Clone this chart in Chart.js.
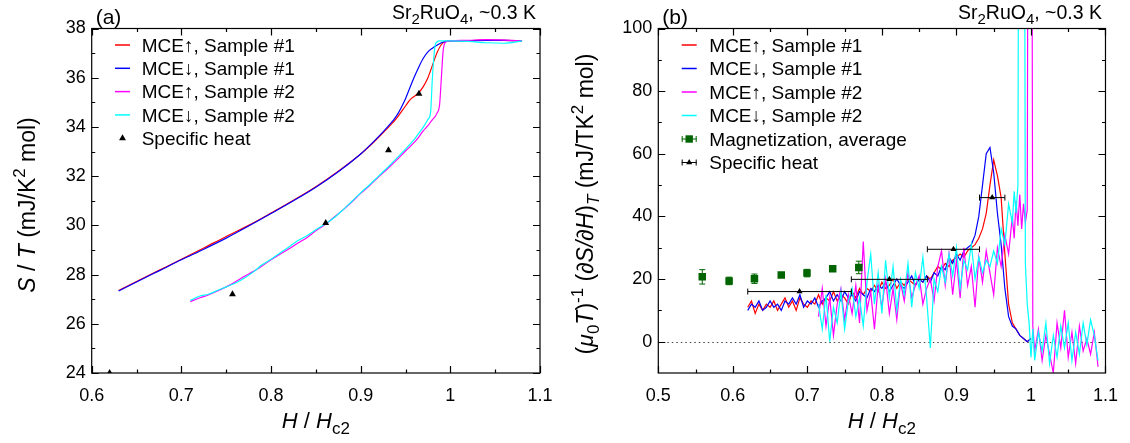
<!DOCTYPE html>
<html>
<head>
<meta charset="utf-8">
<script src="https://cdn.jsdelivr.net/npm/chart.js@4.4.1/dist/chart.umd.min.js"></script>
<style>
body{margin:0;background:#fff;}
#wrap{display:flex;width:1130px;height:443px;}
canvas{display:block;}
</style>
</head>
<body>
<div id="wrap"><canvas id="chartA" width="565" height="443"></canvas><canvas id="chartB" width="565" height="443"></canvas></div>
<script>
// ---------- panel (a): S/T vs H/Hc2 ----------
var hA1 = [0.630,0.650,0.675,0.700,0.725,0.750,0.775,0.800,0.825,0.850,0.875,0.900,0.915,0.930,0.940,0.950,0.955,0.960,0.965,0.970,0.975,0.980,0.985,0.990,0.995,1.000,1.020,1.040,1.060,1.080];
var upA1 = [27.35,27.72,28.17,28.62,29.08,29.55,30.0,30.5,31.02,31.57,32.2,32.9,33.4,33.95,34.35,34.85,35.1,35.25,35.4,35.65,36.0,36.5,37.0,37.35,37.48,37.5,37.5,37.53,37.52,37.5];
var downA1 = [27.33,27.7,28.15,28.6,29.03,29.48,29.97,30.48,31.0,31.55,32.18,32.9,33.42,34.0,34.45,35.15,35.6,36.05,36.45,36.8,37.05,37.2,37.32,37.42,37.48,37.5,37.5,37.52,37.52,37.5];
var hA2 = [0.710,0.720,0.730,0.740,0.750,0.760,0.770,0.780,0.790,0.800,0.810,0.820,0.830,0.840,0.850,0.860,0.870,0.880,0.890,0.900,0.910,0.920,0.930,0.940,0.950,0.960,0.965,0.970,0.975,0.978,0.980,0.983,0.985,0.988,0.990,0.992,0.995,1.000,1.020,1.040,1.060,1.080];
var upA2 = [26.9,27.05,27.17,27.33,27.5,27.7,27.92,28.12,28.35,28.6,28.83,29.05,29.28,29.5,29.78,30.02,30.32,30.62,30.95,31.3,31.62,31.97,32.3,32.65,33.02,33.38,33.6,33.85,34.05,34.2,34.3,34.42,34.55,34.9,36.0,37.1,37.45,37.5,37.52,37.55,37.53,37.5];
var downA2 = [26.95,27.12,27.2,27.35,27.5,27.65,27.85,28.1,28.4,28.62,28.88,29.12,29.38,29.58,29.82,30.05,30.3,30.62,30.97,31.32,31.65,32.0,32.35,32.72,33.1,33.5,33.75,34.0,34.3,34.6,36.0,37.3,37.45,37.5,37.5,37.5,37.5,37.5,37.48,37.42,37.4,37.5];
var cpH = [0.620,0.757,0.861,0.931,0.965];
var cpS = [24.0,27.2,30.1,33.05,35.35];
var xMajorA = [0.6,0.7,0.8,0.9,1.0,1.1];
var xMinorA = [0.65,0.75,0.85,0.95,1.05];
var yMajorA = [24,26,28,30,32,34,36,38];
var yMinorA = [25,27,29,31,33,35,37];

// ---------- panel (b): (mu0 T)^-1 dS/dH vs H/Hc2 ----------
var hB1 = [0.620,0.625,0.630,0.635,0.640,0.645,0.650,0.655,0.660,0.665,
  0.670,0.675,0.680,0.685,0.690,0.695,0.700,0.705,0.710,0.715,
  0.720,0.725,0.730,0.735,0.740,0.745,0.750,0.755,0.760,0.765,
  0.770,0.775,0.780,0.785,0.790,0.795,0.800,0.805,0.810,0.815,
  0.820,0.825,0.830,0.835,0.840,0.845,0.850,0.855,0.860,0.865,
  0.870,0.875,0.880,0.885,0.890,0.895,0.900,0.905,0.910,0.915,
  0.920,0.925,0.930,0.935,0.940,0.945,0.950,0.955,0.960,0.965,
  0.970,0.975,0.980,0.985,0.990,0.995,1.000];
var upB1 = [11,13,9,12,10,12,11,13,10,12,
  14,11,13,10,14,12,11,13,12,15,
  12,14,13,16,13,15,14,12,16,14,
  17,15,17,16,18,16,19,17,18,20,
  17,19,18,20,19,18,20,19,21,20,
  22,24,23,25,24,26,27,28,27,29,
  30,31,33,36,41,50,58,53,46,28,
  12,6,4,2,1,0,1];
var downB1 = [10,12,11,13,10,11,13,11,12,10,
  13,12,14,12,15,11,13,12,14,11,
  13,14,16,13,15,13,16,14,15,13,
  16,15,14,17,16,18,17,19,16,18,
  20,18,17,19,21,18,20,19,21,19,
  22,21,24,23,27,25,28,26,29,30,
  31,34,40,50,60,62,54,41,31,17,
  8,5,4,2,1,0,1];
var hB2 = [0.715,0.720,0.725,0.730,0.735,0.740,0.745,0.750,0.755,0.760,
  0.765,0.770,0.775,0.780,0.785,0.790,0.795,0.800,0.805,0.810,
  0.815,0.820,0.825,0.830,0.835,0.840,0.845,0.850,0.855,0.860,
  0.865,0.870,0.875,0.880,0.885,0.890,0.895,0.900,0.905,0.910,
  0.915,0.920,0.925,0.930,0.935,0.940,0.945,0.950,0.955,0.960,
  0.965,0.970,0.975,
  0.9775,0.980,0.9825,0.985,0.9875,0.990,0.9925,0.995,0.9975,1.000,1.0025,
  1.005,1.010,1.015,1.020,1.025,1.030,1.035,1.040,1.045,1.050,1.055,1.060,1.065,1.070,1.075,1.080,1.085,1.090];
var upB2 = [8,17,5,14,2,12,17,7,15,9,
  18,6,32,10,16,4,18,11,20,9,
  17,7,19,13,22,14,18,21,12,17,
  20,13,24,29,18,28,15,26,14,30,
  18,24,11,27,19,29,22,15,30,24,
  34,28,40,
  33,45,37,47,36,44,38,42,300,300,5,
  -3,4,-6,2,-4,-10,6,-2,10,-5,3,-7,5,-3,1,-4,3,-8];
var downB2 = [12,4,15,0,11,6,16,4,13,17,
  8,14,5,19,28,12,22,9,26,14,
  24,10,20,15,25,11,22,17,27,14,
  -2,20,16,24,19,28,21,30,17,26,
  23,31,20,27,22,26,24,29,25,36,
  31,44,38,
  48,41,50,300,300,300,25,12,6,-5,4,
  -6,3,-3,6,-7,2,-5,5,-2,6,-6,3,-4,6,-1,7,2,-6];
var magH = [0.559,0.595,0.629,0.665,0.6995,0.734,0.769];
var magD = [20.7,19.4,20.1,21.3,21.9,23.3,23.7];
var magErr = [2.3,1.2,1.5,0.8,1.2,0.8,2.0];
var cpbH = [0.6895,0.810,0.896,0.948];
var cpbD = [16.0,19.9,29.5,46.0];
var cpbLo = [0.620,0.759,0.861,0.931];
var cpbHi = [0.759,0.861,0.931,0.965];
var xMajorB = [0.5,0.6,0.7,0.8,0.9,1.0,1.1];
var xMinorB = [0.55,0.65,0.75,0.85,0.95,1.05];
var yMajorB = [0,20,40,60,80,100];
var yMinorB = [10,30,50,70,90];

var FONT = '"Liberation Sans", Arial, Helvetica, sans-serif';
var RED = '#ff0000', BLUE = '#0000ff', MAG = '#ff00ff', CYAN = '#00ffff', GREEN = '#006400';

function pts(xs, ys) {
  return xs.map(function (x, i) { return {x: x, y: ys[i]}; });
}
function fmt(v) { return String(Math.round(v * 100) / 100); }

function fontFor(p, size) {
  var s = (p.sub || p.sup) ? Math.round(size * 0.75) : size;
  return (p.it ? 'italic ' : '') + s + 'px ' + FONT;
}
// text with italic / sub / sup pieces
function drawRich(ctx, parts, x, y, size, align) {
  var w = 0;
  parts.forEach(function (p) { ctx.font = fontFor(p, size); p.w = ctx.measureText(p.t).width; w += p.w; });
  var cx = align === 'center' ? x - w / 2 : (align === 'right' ? x - w : x);
  ctx.textAlign = 'left';
  ctx.textBaseline = 'alphabetic';
  parts.forEach(function (p) {
    ctx.font = fontFor(p, size);
    var dy = p.sub ? size * 0.28 : (p.sup ? -size * 0.42 : 0);
    ctx.fillText(p.t, cx, y + dy);
    cx += p.w;
  });
}
function tri(ctx, x, y, r) {
  ctx.beginPath();
  ctx.moveTo(x, y - r);
  ctx.lineTo(x + r * 0.866, y + r * 0.5);
  ctx.lineTo(x - r * 0.866, y + r * 0.5);
  ctx.closePath();
  ctx.fill();
}

var deco = {
  id: 'deco',
  beforeDatasetsDraw: function (chart) {
    var o = chart.options.plugins.deco;
    if (!o.zeroLine) return;
    var ctx = chart.ctx, a = chart.chartArea, y = Math.round(chart.scales.y.getPixelForValue(0)) + 0.5;
    ctx.save();
    ctx.strokeStyle = '#444';
    ctx.lineWidth = 1;
    ctx.setLineDash([1.5, 3]);
    ctx.beginPath(); ctx.moveTo(a.left, y); ctx.lineTo(a.right, y); ctx.stroke();
    ctx.restore();
  },
  beforeDatasetDraw: function (chart, args) {
    var ds = chart.data.datasets[args.index];
    if (!ds.err) return;
    var ctx = chart.ctx, xs = chart.scales.x, ys = chart.scales.y, e = ds.err;
    ctx.save();
    ctx.strokeStyle = ds.backgroundColor;
    ctx.lineWidth = 1;
    ctx.beginPath();
    ds.data.forEach(function (p, i) {
      var px = xs.getPixelForValue(p.x), py = ys.getPixelForValue(p.y);
      if (e.kind === 'y') {
        var t = ys.getPixelForValue(p.y + e.d[i]), b = ys.getPixelForValue(p.y - e.d[i]);
        ctx.moveTo(px, t); ctx.lineTo(px, b);
        ctx.moveTo(px - 3, t); ctx.lineTo(px + 3, t);
        ctx.moveTo(px - 3, b); ctx.lineTo(px + 3, b);
      } else {
        var l = xs.getPixelForValue(e.lo[i]), r = xs.getPixelForValue(e.hi[i]);
        ctx.moveTo(l, py); ctx.lineTo(r, py);
        ctx.moveTo(l, py - 3); ctx.lineTo(l, py + 3);
        ctx.moveTo(r, py - 3); ctx.lineTo(r, py + 3);
      }
    });
    ctx.stroke();
    ctx.restore();
  },
  afterDatasetsDraw: function (chart) {
    var o = chart.options.plugins.deco, ctx = chart.ctx, a = chart.chartArea;
    var xs = chart.scales.x, ys = chart.scales.y;
    ctx.save();
    // frame + inward ticks on all four sides
    ctx.strokeStyle = '#000';
    ctx.lineWidth = 1.2;
    ctx.beginPath();
    function xt(v, len) {
      var p = Math.round(xs.getPixelForValue(v)) + 0.5;
      ctx.moveTo(p, a.bottom); ctx.lineTo(p, a.bottom - len);
      ctx.moveTo(p, a.top); ctx.lineTo(p, a.top + len);
    }
    function yt(v, len) {
      var p = Math.round(ys.getPixelForValue(v)) + 0.5;
      ctx.moveTo(a.left, p); ctx.lineTo(a.left + len, p);
      ctx.moveTo(a.right, p); ctx.lineTo(a.right - len, p);
    }
    o.xMajor.forEach(function (v) { xt(v, 7); });
    o.xMinor.forEach(function (v) { xt(v, 3.5); });
    o.yMajor.forEach(function (v) { yt(v, 7); });
    o.yMinor.forEach(function (v) { yt(v, 3.5); });
    ctx.stroke();
    ctx.strokeRect(a.left, a.top, a.right - a.left, a.bottom - a.top);

    // titles
    ctx.fillStyle = '#000';
    drawRich(ctx, [{t: o.tag}], a.left + 4, 24, 21, 'left');
    drawRich(ctx, [{t: 'Sr'}, {t: '2', sub: true}, {t: 'RuO'}, {t: '4', sub: true}, {t: ', ~0.3 K'}], o.compoundX, 19, 19.5, 'right');
    drawRich(ctx, [{t: 'H', it: true}, {t: ' / '}, {t: 'H', it: true}, {t: 'c2', sub: true}], (a.left + a.right) / 2, 428, 22, 'center');
    ctx.save();
    ctx.translate(o.yTitleX, o.yTitleY);
    ctx.rotate(-Math.PI / 2);
    drawRich(ctx, o.yTitle, 0, 0, 23, 'center');
    ctx.restore();

    // legend
    var L = o.leg;
    chart.data.datasets.forEach(function (ds, i) {
      var y = L.y0 + i * L.dy, cx = (L.x1 + L.x2) / 2;
      ctx.lineWidth = 1.5;
      if (ds.legendKind === 'line') {
        ctx.strokeStyle = ds.borderColor;
        ctx.beginPath(); ctx.moveTo(L.x1, y); ctx.lineTo(L.x2, y); ctx.stroke();
      } else {
        ctx.fillStyle = ds.backgroundColor;
        ctx.strokeStyle = ds.backgroundColor;
        if (ds.legendKind !== 'tri') {
          ctx.lineWidth = 1;
          ctx.beginPath();
          ctx.moveTo(L.x1, y); ctx.lineTo(L.x2, y);
          ctx.moveTo(L.x1 + 0.5, y - 3); ctx.lineTo(L.x1 + 0.5, y + 3);
          ctx.moveTo(L.x2 - 0.5, y - 3); ctx.lineTo(L.x2 - 0.5, y + 3);
          ctx.stroke();
        }
        if (ds.legendKind === 'sq') ctx.fillRect(cx - 3.7, y - 3.7, 7.4, 7.4);
        else tri(ctx, cx, y, ds.legendKind === 'tri' ? 4 : 3.5);
      }
      ctx.fillStyle = '#000';
      ctx.font = '19px ' + FONT;
      ctx.textAlign = 'left';
      ctx.textBaseline = 'alphabetic';
      ctx.fillText(ds.label, L.tx, y + 6.8);
    });
    ctx.restore();
  }
};

function lineSet(label, data, color, order, smooth) {
  return {label: label, data: data, showLine: true, borderColor: color, backgroundColor: color,
    borderWidth: 1.2, pointRadius: 0, order: order, legendKind: 'line',
    cubicInterpolationMode: smooth ? 'monotone' : 'default', tension: 0};
}

function makeChart(id, datasets, o) {
  return new Chart(document.getElementById(id), {
    type: 'scatter',
    data: {datasets: datasets},
    options: {
      responsive: false,
      animation: false,
      layout: {padding: {top: 28.5, right: o.padRight, left: 0, bottom: 0}},
      plugins: {legend: {display: false}, tooltip: {enabled: false}, deco: o},
      scales: {
        x: {
          type: 'linear', min: o.xMin, max: o.xMax,
          grid: {display: false, drawTicks: false}, border: {display: false},
          afterBuildTicks: function (s) { s.ticks = o.xMajor.map(function (v) { return {value: v}; }); },
          afterFit: function (s) { s.height = 70; },
          ticks: {autoSkip: false, maxRotation: 0, padding: 12, color: '#000',
            font: {family: FONT, size: 18}, callback: fmt}
        },
        y: {
          type: 'linear', min: o.yMin, max: o.yMax,
          grid: {display: false, drawTicks: false}, border: {display: false},
          afterBuildTicks: function (s) { s.ticks = o.yMajor.map(function (v) { return {value: v}; }); },
          afterFit: function (s) { s.width = o.yWidth; },
          ticks: {autoSkip: false, padding: 6, color: '#000',
            font: {family: FONT, size: 18}, callback: fmt}
        }
      }
    },
    plugins: [deco]
  });
}

makeChart('chartA', [
  lineSet('MCE\u2191, Sample #1', pts(hA1, upA1), RED, 4, true),
  lineSet('MCE\u2193, Sample #1', pts(hA1, downA1), BLUE, 3, true),
  lineSet('MCE\u2191, Sample #2', pts(hA2, upA2), MAG, 2, true),
  lineSet('MCE\u2193, Sample #2', pts(hA2, downA2), CYAN, 1, true),
  {label: 'Specific heat', data: pts(cpH, cpS), pointStyle: 'triangle', pointRadius: 4,
    backgroundColor: '#000', borderColor: '#000', borderWidth: 0, order: 0, legendKind: 'tri', clip: 0}
], {
  tag: '(a)', xMin: 0.6, xMax: 1.1, yMin: 24, yMax: 38,
  xMajor: xMajorA, xMinor: xMinorA, yMajor: yMajorA, yMinor: yMinorA,
  yWidth: 91.7, padRight: 25, compoundX: 536,
  yTitleX: 35, yTitleY: 205,
  yTitle: [{t: 'S', it: true}, {t: ' / '}, {t: 'T', it: true}, {t: ' (mJ/K'}, {t: '2', sup: true}, {t: ' mol)'}],
  leg: {x1: 115, x2: 130, tx: 141.7, y0: 45, dy: 23.3}
});

makeChart('chartB', [
  lineSet('MCE\u2191, Sample #1', pts(hB1, upB1), RED, 4, false),
  lineSet('MCE\u2193, Sample #1', pts(hB1, downB1), BLUE, 3, false),
  lineSet('MCE\u2191, Sample #2', pts(hB2, upB2), MAG, 2, false),
  lineSet('MCE\u2193, Sample #2', pts(hB2, downB2), CYAN, 1, false),
  {label: 'Magnetization, average', data: pts(magH, magD), pointStyle: 'rect', pointRadius: 5.3,
    backgroundColor: GREEN, borderColor: GREEN, borderWidth: 0, order: 0, legendKind: 'sq',
    err: {kind: 'y', d: magErr}},
  {label: 'Specific heat', data: pts(cpbH, cpbD), pointStyle: 'triangle', pointRadius: 3.5,
    backgroundColor: '#000', borderColor: '#000', borderWidth: 0, order: 0, legendKind: 'triErr',
    err: {kind: 'x', lo: cpbLo, hi: cpbHi}}
], {
  tag: '(b)', xMin: 0.5, xMax: 1.1, yMin: -10, yMax: 100, zeroLine: true,
  xMajor: xMajorB, xMinor: xMinorB, yMajor: yMajorB, yMinor: yMinorB,
  yWidth: 93.3, padRight: 22.5, compoundX: 537,
  yTitleX: 28, yTitleY: 204,
  yTitle: [{t: '('}, {t: '\u03bc', it: true}, {t: '0', sub: true}, {t: 'T', it: true}, {t: ')'}, {t: '-1', sup: true},
    {t: ' ('}, {t: '\u2202S/\u2202H', it: true}, {t: ')'}, {t: 'T', it: true, sub: true},
    {t: ' (mJ/TK'}, {t: '2', sup: true}, {t: ' mol)'}],
  leg: {x1: 116.7, x2: 131.7, tx: 144.3, y0: 45, dy: 23.5}
});
</script>
</body>
</html>
